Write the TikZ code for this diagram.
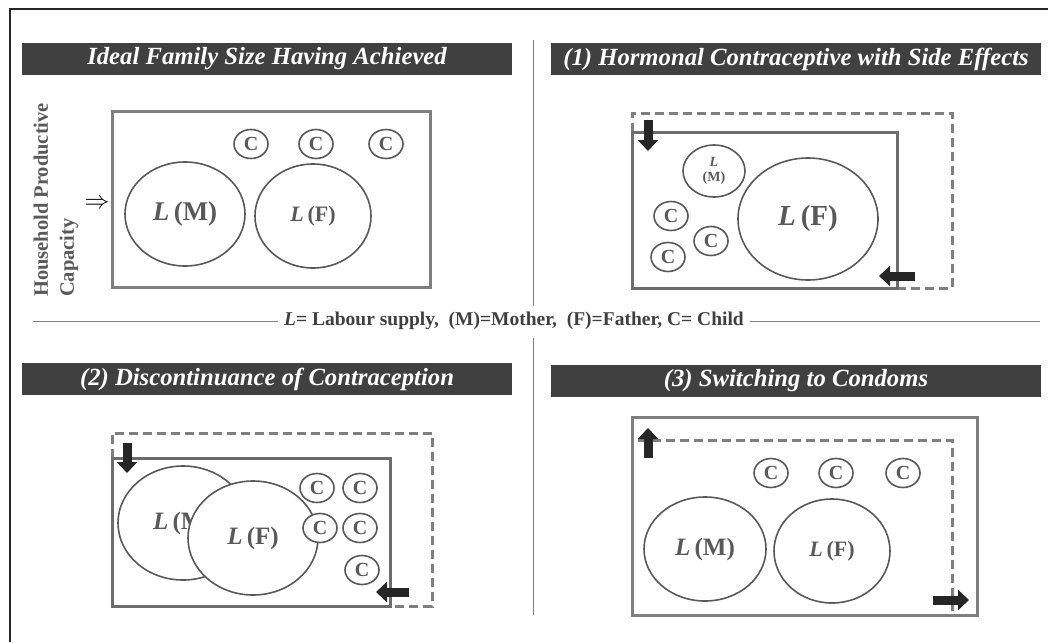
\documentclass[tikz,border=0pt]{standalone}
\usepackage{fontspec}
\setmainfont{Liberation Serif}
\usetikzlibrary{shapes.geometric,arrows.meta}

\definecolor{barcol}{HTML}{404040}
\definecolor{inkgray}{HTML}{595959}
\definecolor{boxgray}{HTML}{7F7F7F}
\definecolor{arrowcol}{HTML}{262626}

\newcommand{\labour}[1]{\textit{L}\,(#1)}

\tikzset{
  titlebar/.style={fill=barcol, text=white, inner sep=0pt, minimum width=490, minimum height=32,
    font=\fontsize{24.7}{28}\selectfont\bfseries\itshape},
  person/.style={ellipse, draw=inkgray, line width=1.6pt, fill=white, text=inkgray, inner sep=0pt,
    font=\fontsize{25}{28}\selectfont\bfseries},
  kid/.style={ellipse, draw=inkgray, line width=1.6pt, fill=white, text=inkgray, inner sep=0pt,
    minimum width=34, minimum height=29, font=\fontsize{20}{22}\selectfont\bfseries},
  housebox/.style={draw=boxgray, line width=3pt},
  shiftbox/.style={draw=boxgray, line width=3pt, dash pattern=on 9pt off 5pt},
  blockarrow/.style={draw=arrowcol, line width=9pt, -{Triangle[width=20pt,length=11pt]}},
  divider/.style={draw=boxgray, line width=0.8pt}
}

\begin{document}
\begin{tikzpicture}[x=1pt,y=-1pt]
  \useasboundingbox (0,0) rectangle (1048,642);

  % frame and dividers
  \draw[arrowcol, line width=2pt] (10,642) -- (10,9) -- (1048,9);
  \draw[divider] (533,40) -- (533,306);
  \draw[divider] (533,338) -- (533,615);
  \node[font=\fontsize{19.5}{22}\selectfont\bfseries, text=barcol, inner xsep=6pt] (key) at (514,321)
    {\textit{L}= Labour supply,\ \ (M)=Mother,\ \ (F)=Father, C= Child};
  \draw[divider] (33,321) -- (key.west);
  \draw[divider] (key.east) -- (1040,321);

  % titles
  \node[titlebar] (t0) at (267,59) {Ideal Family Size Having Achieved};
  \node[titlebar] (t1) at (796,59) {(1) Hormonal Contraceptive with Side Effects};
  \node[titlebar] (t2) at (267,379) {(2) Discontinuance of Contraception};
  \node[titlebar] (t3) at (796,381) {(3) Switching to Condoms};

  % panel 0: ideal size
  \node[rotate=90, align=left, text=inkgray, font=\fontsize{20.5}{26}\selectfont\bfseries] (hpc) at (56,200)
    {Household Productive\\Capacity};
  \node[font=\fontsize{28}{30}\selectfont] (imp) at (97,204) {$\Rightarrow$};
  \draw[housebox] (112,111) rectangle (430,287);
  \node[person, minimum width=120, minimum height=104, font=\fontsize{27}{30}\selectfont\bfseries] (m0) at (185,214) {\labour{M}};
  \node[person, minimum width=116, minimum height=104, font=\fontsize{22}{25}\selectfont\bfseries] (f0) at (313,216) {\labour{F}};
  \node[kid] (c01) at (251,144) {C};
  \node[kid] (c02) at (316,144) {C};
  \node[kid] (c03) at (386,144) {C};

  % panel 1: side effects
  \draw[shiftbox] (632,132) -- (632,113) -- (952,113) -- (952,288) -- (897,288);
  \draw[housebox, draw=boxgray!85!black] (632,288) -- (632,132) -- (897,132) -- (897,288) -- cycle;
  \node[person, minimum width=62, minimum height=52, align=center, font=\fontsize{14}{15}\selectfont\bfseries] (m1) at (714,171)
    {\textit{L}\\(M)};
  \node[person, minimum width=140, minimum height=122, font=\fontsize{29}{32}\selectfont\bfseries] (f1) at (808,219) {\labour{F}};
  \node[kid] (c11) at (671,216) {C};
  \node[kid] (c12) at (668,257) {C};
  \node[kid] (c13) at (711,241) {C};
  \coordinate (d1a) at (648,120);
  \coordinate (d1b) at (648,151);
  \coordinate (l1a) at (915,276);
  \coordinate (l1b) at (879,276);
  \draw[blockarrow] (d1a) -- (d1b);
  \draw[blockarrow] (l1a) -- (l1b);

  % panel 2: discontinuance
  \draw[shiftbox] (112,458) -- (112,433) -- (432,433) -- (432,606) -- (390,606);
  \draw[housebox, draw=boxgray!85!black] (112,606) -- (112,458) -- (390,458) -- (390,606) -- cycle;
  \node[person, minimum width=130, minimum height=114] (m2) at (183,523) {\labour{M}};
  \node[person, minimum width=130, minimum height=114] (f2) at (253,538) {\labour{F}};
  \node[kid] (c21) at (317,488) {C};
  \node[kid] (c22) at (360,488) {C};
  \node[kid] (c23) at (320,528) {C};
  \node[kid] (c24) at (360,528) {C};
  \node[kid] (c25) at (362,570) {C};
  \coordinate (d2a) at (127,443);
  \coordinate (d2b) at (127,473);
  \coordinate (l2a) at (409,592);
  \coordinate (l2b) at (376,592);
  \draw[blockarrow] (d2a) -- (d2b);
  \draw[blockarrow] (l2a) -- (l2b);

  % panel 3: condoms
  \draw[housebox] (632,417) rectangle (977,615);
  \draw[shiftbox] (638,440) -- (952,440) -- (952,615);
  \node[kid] (c31) at (771,473) {C};
  \node[kid] (c32) at (836,473) {C};
  \node[kid] (c33) at (903,473) {C};
  \node[person, minimum width=122, minimum height=104] (m3) at (705,549) {\labour{M}};
  \node[person, minimum width=116, minimum height=104, font=\fontsize{22}{25}\selectfont\bfseries] (f3) at (832,551) {\labour{F}};
  \coordinate (u3a) at (648,458);
  \coordinate (u3b) at (648,428);
  \coordinate (r3a) at (933,600);
  \coordinate (r3b) at (969,600);
  \draw[blockarrow] (u3a) -- (u3b);
  \draw[blockarrow] (r3a) -- (r3b);
\end{tikzpicture}
\end{document}
